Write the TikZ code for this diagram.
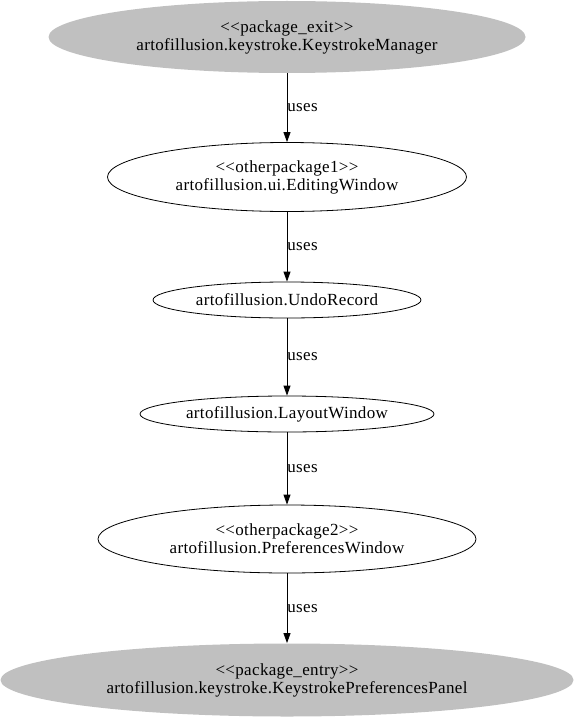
\documentclass[tikz,border=0pt]{standalone}
\usepackage{fontspec}
\setmainfont{Liberation Serif}[LetterSpace=2]
\usetikzlibrary{shapes.geometric,arrows.meta}
\definecolor{pkggray}{RGB}{192,192,192}
\begin{document}
\begin{tikzpicture}[x=1pt,y=-1pt,
    cls/.style={ellipse,draw,line width=0.8pt,inner sep=0pt,align=center,font=\fontsize{17}{18}\selectfont},
    pkg/.style={cls,draw=none,fill=pkggray},
    uses/.style={-{Triangle[length=10pt,width=7pt]},line width=0.8pt},
    lbl/.style={anchor=west,inner sep=0pt,font=\fontsize{17}{18}\selectfont}]
                \useasboundingbox (0,0) rectangle (573,717);
                \node[pkg,minimum width=477pt,minimum height=72pt] (exit) at (287,37) {{<}{<}package\_exit{>}{>}\\artofillusion.keystroke.KeystrokeManager};
                \node[cls,minimum width=359pt,minimum height=69pt] (editing) at (287,177) {{<}{<}otherpackage1{>}{>}\\artofillusion.ui.EditingWindow};
                \node[cls,minimum width=268pt,minimum height=36pt] (undo) at (287,300) {artofillusion.UndoRecord};
                \node[cls,minimum width=294pt,minimum height=36pt] (layout) at (287,414) {artofillusion.LayoutWindow};
                \node[cls,minimum width=378pt,minimum height=68pt] (prefs) at (287,539) {{<}{<}otherpackage2{>}{>}\\artofillusion.PreferencesWindow};
                \node[pkg,minimum width=573pt,minimum height=73pt] (entry) at (287,680) {{<}{<}package\_entry{>}{>}\\artofillusion.keystroke.KeystrokePreferencesPanel};
                \draw[uses] (exit) -- node[lbl] {uses} (editing);
                \draw[uses] (editing) -- node[lbl] {uses} (undo);
                \draw[uses] (undo) -- node[lbl] {uses} (layout);
                \draw[uses] (layout) -- node[lbl] {uses} (prefs);
                \draw[uses] (prefs) -- node[lbl] {uses} (entry);
            \end{tikzpicture}
\end{document}
